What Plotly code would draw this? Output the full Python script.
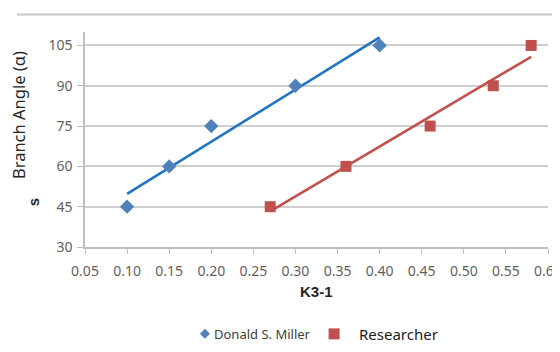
import numpy as np
import plotly.graph_objects as go

# Data
miller_x = [0.10, 0.15, 0.20, 0.30, 0.40]
miller_y = [45, 60, 75, 90, 105]
research_x = [0.27, 0.36, 0.46, 0.535, 0.58]
research_y = [45, 60, 75, 90, 105]
x_ticks = [0.05, 0.10, 0.15, 0.20, 0.25, 0.30, 0.35, 0.40, 0.45, 0.50, 0.55, 0.60]
y_ticks = [30, 45, 60, 75, 90, 105]
series_names = ["Donald S. Miller", "Researcher"]

def trend(xs, ys):
    m, b = np.polyfit(xs, ys, 1)
    tx = [min(xs), max(xs)]
    return tx, [m * t + b for t in tx]

fig = go.Figure()

mtx, mty = trend(miller_x, miller_y)
rtx, rty = trend(research_x, research_y)

fig.add_trace(go.Scatter(x=mtx, y=mty, mode="lines", line=dict(color="#1F74C4", width=2.6),
                         showlegend=False, hoverinfo="skip"))
fig.add_trace(go.Scatter(x=rtx, y=rty, mode="lines", line=dict(color="#C4504D", width=2.6),
                         showlegend=False, hoverinfo="skip"))
fig.add_trace(go.Scatter(x=miller_x, y=miller_y, mode="markers", name=series_names[0],
                         marker=dict(symbol="diamond", size=11, color="#4F81BD"), showlegend=False))
fig.add_trace(go.Scatter(x=research_x, y=research_y, mode="markers", name=series_names[1],
                         marker=dict(symbol="square", size=11, color="#C0504D"), showlegend=False))

font_family = "Noto Sans"
# page body has an 8px margin, so the figure is 8px smaller than the window
fig.update_layout(
    width=552, height=344,
    margin=dict(l=77, r=12, t=23.5, b=105, autoexpand=False),
    paper_bgcolor="white", plot_bgcolor="white",
    font=dict(family=font_family, color="#595959", size=13),
    xaxis=dict(range=[0.05, 0.60], tickvals=x_ticks, tickformat=".2f",
               showgrid=False, zeroline=False, showline=True, linecolor="#BFBFBF", linewidth=1.5,
               ticks="outside", ticklen=5, tickcolor="#BFBFBF", ticklabelstandoff=5,
               ticklabeloverflow="allow",
               tickfont=dict(size=14, color="#5F5F5F")),
    yaxis=dict(range=[30, 110], tickvals=y_ticks,
               showgrid=True, gridcolor="#CFCFCF", gridwidth=1.5, zeroline=False,
               showline=True, linecolor="#BFBFBF", linewidth=1.5,
               ticks="outside", ticklen=6, tickcolor="#BFBFBF", ticklabelstandoff=2,
               tickfont=dict(size=14, color="#5F5F5F")),
    showlegend=False,
)

fig.add_annotation(text="<b>K3-1</b>", xref="paper", yref="paper", x=0.5, y=-0.205,
                   xanchor="center", yanchor="middle", showarrow=False,
                   font=dict(family="Liberation Sans", size=15, color="#262626"))
fig.add_annotation(text="Branch Angle (α)", xref="paper", yref="paper", x=-0.145, xanchor="center",
                   y=0.613, yanchor="middle", textangle=-90, showarrow=False,
                   font=dict(family=font_family, size=16.5, color="#262626"))
fig.add_annotation(text="<b>s</b>", xref="paper", yref="paper", x=-0.112, xanchor="center",
                   y=0.209, yanchor="middle", textangle=-90, showarrow=False,
                   font=dict(family="Liberation Sans", size=15, color="#262626"))
fig.add_shape(type="line", xref="paper", yref="paper", x0=-0.147, x1=1.05, y0=1.081, y1=1.081,
              line=dict(color="#C8C8C8", width=2))

# legend drawn manually
leg_y = -0.404
fig.add_shape(type="path", xref="paper", yref="paper", xsizemode="pixel", ysizemode="pixel",
              xanchor=0.259, yanchor=leg_y, path="M -5 0 L 0 5 L 5 0 L 0 -5 Z",
              fillcolor="#4F81BD", line=dict(width=0))
fig.add_annotation(text=series_names[0], xref="paper", yref="paper", x=0.2745, y=leg_y,
                   xanchor="left", yanchor="middle", showarrow=False,
                   font=dict(family=font_family, size=13, color="#404040"))
fig.add_shape(type="rect", xref="paper", yref="paper", xsizemode="pixel", ysizemode="pixel",
              xanchor=0.538, yanchor=leg_y, x0=-5.5, x1=5.5, y0=-5.5, y1=5.5,
              fillcolor="#C0504D", line=dict(width=0))
fig.add_annotation(text=series_names[1], xref="paper", yref="paper", x=0.5875, y=leg_y,
                   xanchor="left", yanchor="middle", showarrow=False,
                   font=dict(family=font_family, size=15, color="#1A1A1A"))

fig.write_html("out.html")
